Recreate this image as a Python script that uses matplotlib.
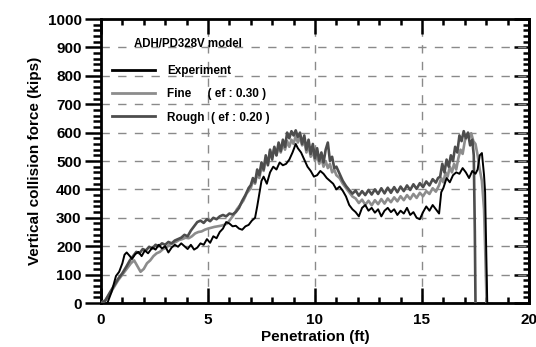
import numpy as np
import matplotlib.pyplot as plt
from matplotlib.ticker import MultipleLocator

plt.rcParams['font.family'] = ['Liberation Sans', 'DejaVu Sans']

# measured barge impact force vs penetration
exp_x = [0.3, 0.5, 0.7, 0.85, 1.0, 1.1, 1.2, 1.35, 1.45, 1.6, 1.75, 1.9, 2.05, 2.2,
         2.4, 2.55, 2.7, 2.85, 3.0, 3.15, 3.3, 3.45, 3.6, 3.75, 3.9, 4.05, 4.2, 4.35,
         4.5, 4.65, 4.8, 4.95, 5.1, 5.25, 5.4, 5.55, 5.7, 5.85, 6.0, 6.15, 6.3, 6.45,
         6.6, 6.75, 6.9, 7.05, 7.2, 7.3, 7.4, 7.5, 7.6, 7.75, 7.9, 8.05, 8.2, 8.35,
         8.5, 8.65, 8.8, 8.95, 9.1, 9.2, 9.35, 9.5, 9.65, 9.8, 9.95, 10.1, 10.25, 10.4,
         10.55, 10.7, 10.85, 11.0, 11.15, 11.3, 11.45, 11.6, 11.75, 11.9, 12.05, 12.2,
         12.35, 12.5, 12.65, 12.8, 12.95, 13.1, 13.25, 13.4, 13.55, 13.7, 13.85, 14.0,
         14.15, 14.3, 14.45, 14.6, 14.75, 14.9, 15.05, 15.2, 15.35, 15.5, 15.65, 15.8,
         15.9, 16.0, 16.15, 16.3, 16.45, 16.6, 16.75, 16.9, 17.05, 17.2, 17.35, 17.5,
         17.6, 17.7, 17.8, 17.9, 17.95, 18.05]
exp_y = [0, 40, 95, 110, 140, 170, 178, 165, 155, 172, 180, 165, 185, 175,
         195, 188, 205, 192, 200, 178, 195, 205, 198, 210, 200, 190, 205, 188,
         195, 210, 205, 225, 212, 235, 228, 250, 262, 285, 280, 270, 272, 262,
         258, 270, 275, 290, 300, 340, 385, 430, 445, 420, 460, 480, 470, 495,
         485, 490, 505, 530, 560, 545, 530, 505, 480, 465, 445, 450, 465, 455,
         440, 430, 420, 400, 410, 395, 375, 345, 330, 320, 305, 335,
         345, 325, 335, 318, 330, 305, 325, 335, 320, 330, 310, 325,
         315, 335, 310, 320, 300, 295, 320, 340, 325, 345, 330, 315,
         390, 405, 440, 425, 450, 460, 455, 475, 460, 440, 465, 455,
         470, 520, 528, 450, 390, 0]

# fine mesh simulation
fine_x = [0, 0.2, 0.4, 0.6, 0.8, 1.0, 1.2, 1.4, 1.55, 1.7, 1.85, 2.0, 2.15, 2.3,
          2.45, 2.6, 2.75, 2.9, 3.05, 3.2, 3.35, 3.5, 3.65, 3.8, 3.95, 4.1, 4.25,
          4.4, 4.55, 4.7, 4.85, 5.0, 5.15, 5.3, 5.45, 5.6, 5.75, 5.9, 6.05, 6.2,
          6.35, 6.5, 6.65, 6.8, 6.9,
          7.0, 7.1, 7.2, 7.3, 7.4, 7.5, 7.6, 7.7, 7.8, 7.9, 8.0, 8.1, 8.2, 8.3, 8.4,
          8.5, 8.6, 8.7, 8.8, 8.9, 9.0, 9.1, 9.2, 9.3, 9.4, 9.5, 9.6, 9.7, 9.8, 9.9,
          10.0, 10.1, 10.2, 10.3, 10.4, 10.5, 10.6, 10.7, 10.8, 10.9, 11.0,
          11.15, 11.3, 11.45, 11.6, 11.75,
          11.9, 12.05, 12.2, 12.35, 12.5, 12.65, 12.8, 12.95, 13.1, 13.25, 13.4,
          13.55, 13.7, 13.85, 14.0, 14.15, 14.3, 14.45, 14.6, 14.75, 14.9, 15.05,
          15.2, 15.35, 15.5, 15.65,
          15.8, 15.9, 16.0, 16.1, 16.2, 16.3, 16.4, 16.5, 16.6, 16.7, 16.8, 16.9,
          17.0, 17.1, 17.2, 17.3, 17.4, 17.5, 17.6, 17.7, 17.8, 17.9, 17.95, 18.02]
fine_y = [0, 10, 30, 55, 80, 100, 120, 140, 150, 130, 110, 120, 140, 150,
          165, 175, 180, 190, 195, 205, 210, 215, 222, 225, 230, 228, 235,
          245, 250, 252, 258, 262, 265, 268, 270, 272, 275, 280, 295, 310,
          330, 345, 360, 385, 395,
          405, 430, 420, 455, 440, 480, 465, 510, 490, 535, 515, 545, 520, 555, 530,
          560, 540, 570, 550, 575, 560, 590, 565, 585, 555, 570, 530, 555, 515, 535,
          500, 520, 490, 510, 480, 500, 475, 490, 460, 470, 450,
          440, 420, 405, 390, 375,
          368, 352, 364, 346, 360, 344, 362, 348, 366, 350, 368,
          355, 372, 358, 376, 362, 380, 366, 384, 370, 388, 376,
          394, 384, 404, 392,
          415, 440, 425, 460, 445, 480, 460, 490, 470, 510, 540, 525,
          570, 595, 580, 598, 570, 560, 520, 470, 430, 330, 200, 0]

# rough mesh simulation
rough_x = [0, 0.2, 0.4, 0.6, 0.8, 1.0, 1.2, 1.35, 1.5, 1.65, 1.8, 1.95, 2.1, 2.25,
           2.4, 2.55, 2.7, 2.85, 3.0, 3.15, 3.3, 3.45, 3.6, 3.75, 3.9, 4.05, 4.2,
           4.35, 4.5, 4.65, 4.8, 4.95, 5.1, 5.25, 5.4, 5.55, 5.7, 5.85, 6.0, 6.15,
           6.3, 6.45, 6.6, 6.75, 6.9,
           7.0, 7.1, 7.2, 7.3, 7.4, 7.5, 7.6, 7.7, 7.8, 7.9, 8.0, 8.1, 8.2, 8.3, 8.4,
           8.5, 8.6, 8.7, 8.8, 8.9, 9.0, 9.1, 9.2, 9.3, 9.4, 9.5, 9.6, 9.7, 9.8, 9.9,
           10.0, 10.1, 10.2, 10.3, 10.4, 10.5, 10.6, 10.7, 10.8, 10.9, 11.0,
           11.15, 11.3, 11.45, 11.6, 11.75,
           11.9, 12.05, 12.2, 12.35, 12.5, 12.65, 12.8, 12.95, 13.1, 13.25, 13.4,
           13.55, 13.7, 13.85, 14.0, 14.15, 14.3, 14.45, 14.6, 14.75, 14.9, 15.05,
           15.2, 15.35, 15.5, 15.65, 15.75,
           15.85, 15.95, 16.05, 16.15, 16.25, 16.35, 16.45, 16.55, 16.65, 16.75,
           16.85, 16.95, 17.05, 17.15, 17.25, 17.35, 17.42, 17.47, 17.5]
rough_y = [0, 8, 35, 60, 85, 105, 130, 150, 165, 180, 175, 190, 185, 198,
           192, 205, 200, 210, 205, 215, 210, 220, 225, 230, 240, 235, 255,
           270, 285, 290, 282, 295, 288, 300, 295, 305, 310, 305, 315, 312,
           320, 335, 360, 380, 405,
           415, 440, 425, 470, 450, 495, 470, 520, 485, 540, 505, 550, 520, 565, 535,
           575, 550, 600, 580, 605, 590, 608, 585, 600, 560, 590, 540, 575, 525, 560,
           510, 545, 500, 530, 495, 540, 565, 500, 515, 475, 480,
           455, 430, 412, 398, 385,
           396, 378, 394, 380, 398, 382, 400, 384, 404, 386, 406,
           388, 408, 390, 410, 394, 414, 398, 418, 402, 422, 408,
           428, 414, 436, 424, 440,
           445, 490, 460, 505, 480, 520, 500, 550, 530, 590,
           570, 605, 580, 600, 555, 575, 520, 250, 0]

fig = plt.figure(figsize=(5.36, 3.47), dpi=100)
ax = fig.add_axes([0.1884, 0.1268, 0.7985, 0.8184])

ax.plot(fine_x, fine_y, color='#8c8c8c', lw=1.9, label='Fine     ( ef : 0.30 )', zorder=3)
ax.plot(rough_x, rough_y, color='#4d4d4d', lw=1.9, label='Rough  ( ef : 0.20 )', zorder=4)
ax.plot(exp_x, exp_y, color='black', lw=1.4, label='Experiment', zorder=5)

ax.set_xlim(0, 20)
ax.set_ylim(0, 1000)
ax.xaxis.set_major_locator(MultipleLocator(5))
ax.xaxis.set_minor_locator(MultipleLocator(1))
ax.yaxis.set_major_locator(MultipleLocator(100))
ax.yaxis.set_minor_locator(MultipleLocator(20))

ax.grid(True, which='major', color='#8a8a8a', ls=(0, (6, 6)), lw=1.0)

# x ticks point inward on top and bottom
ax.tick_params(axis='x', which='both', direction='in', top=True, width=1.8,
               labelsize=11, pad=7)
ax.tick_params(axis='x', which='major', length=10.5)
ax.tick_params(axis='x', which='minor', length=4.5)
# left ticks point outward, right ones inward
ax.tick_params(axis='y', which='both', direction='out', width=1.8,
               labelsize=11, pad=2.5)
ax.tick_params(axis='y', which='major', length=11.5)
ax.tick_params(axis='y', which='minor', length=5.8)
right = ax.secondary_yaxis('right')
right.yaxis.set_major_locator(MultipleLocator(100))
right.yaxis.set_minor_locator(MultipleLocator(20))
right.tick_params(axis='y', which='both', direction='in', width=1.8, labelright=False)
right.tick_params(axis='y', which='major', length=10.5)
right.tick_params(axis='y', which='minor', length=4.5)
right.spines['right'].set_linewidth(2)
for s in ax.spines.values():
    s.set_linewidth(2)
for lab in ax.get_xticklabels() + ax.get_yticklabels():
    lab.set_fontweight('bold')

ax.set_xlabel('Penetration (ft)', fontsize=11, fontweight='bold', labelpad=2)
ax.set_ylabel('Vertical collision force (kips)', fontsize=11, fontweight='bold', labelpad=4)

ax.text(0.078, 0.913, 'ADH/PD328V model', transform=ax.transAxes, fontsize=8.3,
        fontweight='bold', va='center')
handles, labels = ax.get_legend_handles_labels()
order = [2, 0, 1]
leg = ax.legend([handles[i] for i in order], [labels[i] for i in order],
                loc='upper left', bbox_to_anchor=(0.0, 0.875), frameon=False,
                handlelength=3.7, handletextpad=1.0, labelspacing=0.95,
                borderaxespad=0.5, prop={'size': 8.5, 'weight': 'bold'})
for line in leg.get_lines():
    line.set_linewidth(2)

fig.savefig('out.png', dpi=100)
